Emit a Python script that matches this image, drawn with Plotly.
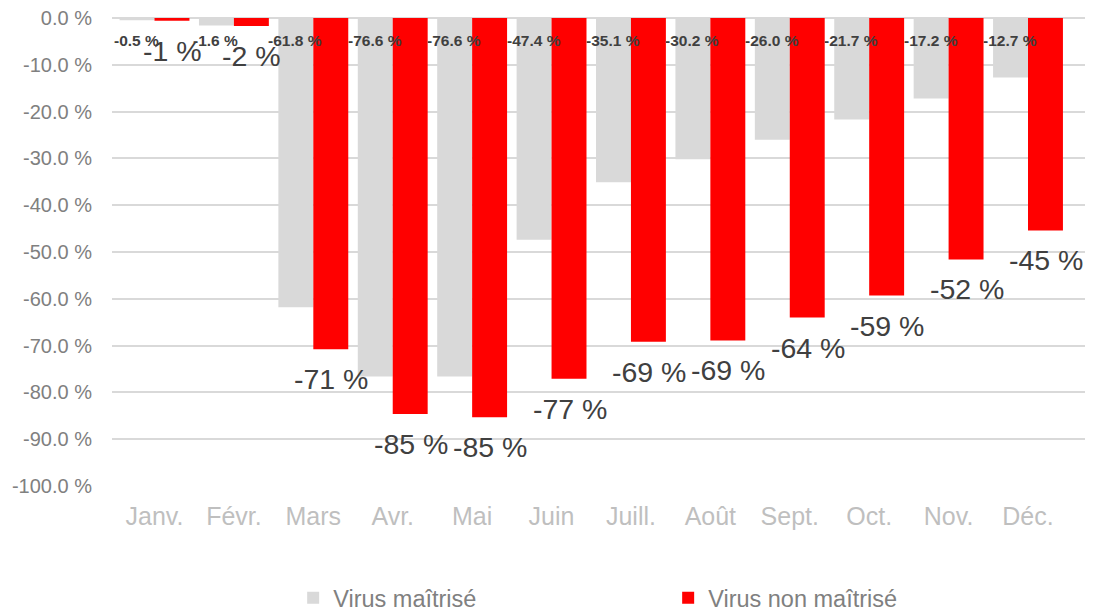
import plotly.graph_objects as go

months = ["Janv.", "Févr.", "Mars", "Avr.", "Mai", "Juin", "Juill.", "Août", "Sept.", "Oct.", "Nov.", "Déc."]
virus_maitrise = [-0.5, -1.6, -61.8, -76.6, -76.6, -47.4, -35.1, -30.2, -26.0, -21.7, -17.2, -12.7]
virus_non_maitrise = [-0.6, -1.7, -70.8, -84.6, -85.3, -77.1, -69.2, -68.9, -64.0, -59.3, -51.6, -45.4]
y_ticks = [0, -10, -20, -30, -40, -50, -60, -70, -80, -90, -100]
y_tick_labels = [f"{v:.1f} %" for v in y_ticks]

GREY = "#d9d9d9"
RED = "#ff0000"
FONT = "Liberation Sans, Arial, sans-serif"


def pct0(v):
    s = "-" if v < 0 else ""
    return f"{s}{int(abs(v) + 0.5)} %"


fig = go.Figure()
fig.add_trace(go.Bar(name="Virus maîtrisé", x=months, y=virus_maitrise,
                     marker=dict(color=GREY, line=dict(width=0))))
fig.add_trace(go.Bar(name="Virus non maîtrisé", x=months, y=virus_non_maitrise,
                     marker=dict(color=RED, line=dict(width=0))))

annotations = []
for m, v in zip(months, virus_maitrise):
    annotations.append(dict(x=m, y=0, xref="x", yref="y", text=f"{v:.1f} %",
                            showarrow=False, xshift=-18, yshift=-22, yanchor="middle",
                            font=dict(family=FONT, size=15.5, color="#404040", weight="bold")))
for m, v in zip(months, virus_non_maitrise):
    annotations.append(dict(x=m, y=v, xref="x", yref="y", text=pct0(v),
                            showarrow=False, xshift=18, yshift=-30, yanchor="middle",
                            font=dict(family=FONT, size=28.5, color="#404040")))

fig.update_layout(
    width=1101, height=607,
    margin=dict(l=104, r=24, t=10, b=129, autoexpand=False),
    paper_bgcolor="white", plot_bgcolor="white",
    barmode="group", bargap=0.12, bargroupgap=0,
    font=dict(family=FONT),
    annotations=annotations,
    showlegend=True,
    legend=dict(orientation="h", xref="container", yref="container",
                x=0.259, xanchor="left", y=0.028, yanchor="middle",
                font=dict(family=FONT, size=23.5, color="#808080"),
                entrywidth=330, entrywidthmode="pixels", traceorder="normal"),
    xaxis=dict(showgrid=False, showline=False, zeroline=False, ticks="",
               automargin=False, ticklabeloverflow="allow",
               tickfont=dict(family=FONT, size=25, color="#bfbfbf"),
               ticklabelstandoff=13),
    yaxis=dict(range=[-100, 0], tickvals=y_ticks, ticktext=y_tick_labels,
               automargin=False, ticklabeloverflow="allow",
               showgrid=True, gridcolor=GREY, gridwidth=1.5,
               zeroline=True, zerolinecolor=GREY, zerolinewidth=1.5,
               showline=False, ticks="",
               tickfont=dict(family=FONT, size=20, color="#808080"),
               ticklabelstandoff=19),
)

fig.write_html("out.html")
